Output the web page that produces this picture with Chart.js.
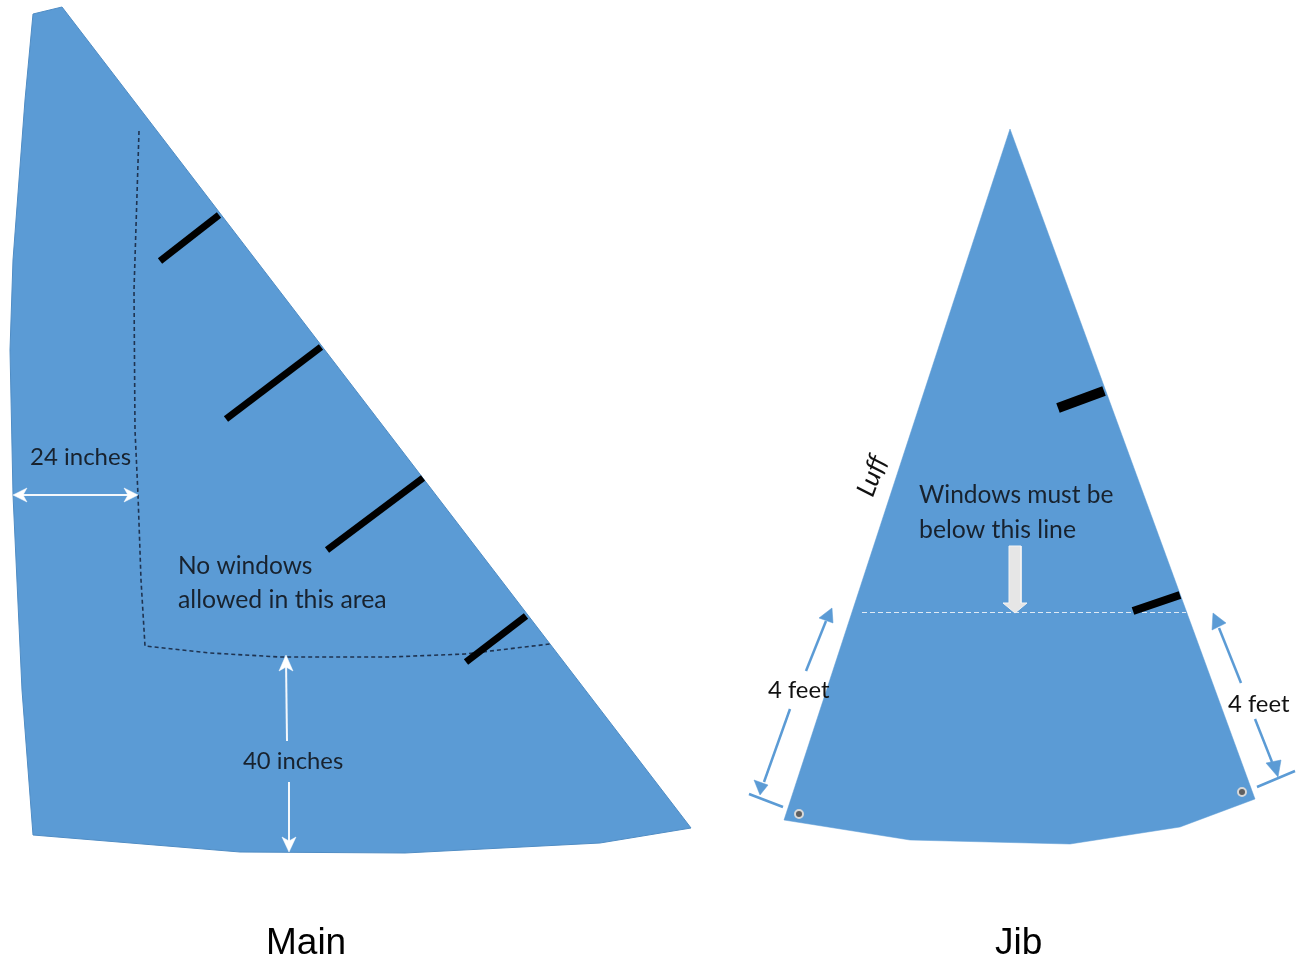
<!DOCTYPE html>
<html>
<head>
<meta charset="utf-8">
<title>Main and Jib</title>
<script src="https://cdn.jsdelivr.net/npm/chart.js@4/dist/chart.umd.js"></script>
<style>
  html, body { margin: 0; padding: 0; background: #fff; }
  #wrap { position: relative; width: 1303px; height: 963px; }
</style>
</head>
<body>
<div id="wrap"><canvas id="chart"></canvas></div>
<script>
// sail outlines
const mainSail = [[33,14],[62,7],[691,828],[600,843],[405,853],[240,852],[33,835],[22,690],[13,495],[10,350],[13,260],[25,100]];
const jibSail = [[1010,129],[1255,799],[1180,827],[1070,844],[910,840],[784,820]];

// limit lines
const mainLimit = [[139,131],[134,290],[135,430],[138,495],[141,580],[145,646],[210,653],[280,657],[390,657],[465,654],[550,644]];
const jibLimit = [[862,612.5],[1186,612.5]];

// windows
const mainWindows = [
  [[160,261],[219,215]],
  [[226,419],[321,347]],
  [[327,550],[423,478]],
  [[466,662],[526,616]]
];
const jibWindows = [
  [[1058,408],[1104,391]],
  [[1133,611],[1180,595]]
];

// white dimension arrows
const whiteLines = [
  [[15,495],[136,495]],
  [[286,660],[287,741]],
  [[289,782],[289,848]]
];
const whiteHeads = [
  [[13,495],[27,488],[23,495],[27,502]],
  [[138,495],[124,488],[128,495],[124,502]],
  [[286,655],[279,671],[286,667],[293,671]],
  [[289,852],[282,837],[289,841],[296,837]]
];

// blue dimension arrows
const blueLines = [
  [[806,671],[826,621]],
  [[790,709],[764,782]],
  [[1241,683],[1219,628]],
  [[1255,719],[1272,762]],
  [[749,794],[783,807]],
  [[1257,787],[1295,771]]
];
const blueHeads = [
  [[832,608],[819,618],[833,623]],
  [[760,795],[754,780],[768,785]],
  [[1213,613],[1212,630],[1226,623]],
  [[1278,777],[1266,763],[1281,760]]
];

const blockArrow = [[1009,546],[1021,546],[1021,603],[1027,603],[1015,613],[1003,603],[1009,603]];
const grommets = [[799,814],[1242,792]];

// text
const labels = ['24 inches', 'No windows', 'allowed in this area', '40 inches', 'Windows must be', 'below this line', '4 feet', '4 feet', 'Luff', 'Main', 'Jib'];
const labelAnchors = [[30,465],[178,574],[178,608],[243,769],[919,503],[919,538],[768,698],[1228,712],[872,476],[266,954],[995,954]];

const toPoints = pts => pts.map(p => ({ x: p[0], y: p[1] }));

function polygon(pts, fillColor, border) {
  return {
    data: toPoints(pts.concat([pts[0]])),
    showLine: true,
    fill: 'shape',
    backgroundColor: fillColor,
    borderColor: border || fillColor,
    borderWidth: border ? 1 : 0.5,
    pointRadius: 0,
    tension: 0
  };
}

function line(pts, color, width, dash) {
  return {
    data: toPoints(pts),
    showLine: true,
    fill: false,
    borderColor: color,
    borderWidth: width,
    borderDash: dash || [],
    pointRadius: 0,
    tension: 0
  };
}

const SAIL_BLUE = '#5b9bd5';
const INK = '#18222e';

const datasets = [
  polygon(mainSail, SAIL_BLUE, '#4f8cc4'),
  polygon(jibSail, SAIL_BLUE),
  line(mainLimit, '#1f3350', 1.6, [4, 3]),
  line(jibLimit, '#dfeaf5', 1.2, [5, 3])
];
mainWindows.forEach(w => datasets.push(line(w, '#000', 7)));
datasets.push(line(jibWindows[0], '#000', 10));
datasets.push(line(jibWindows[1], '#000', 8));
whiteLines.forEach(w => datasets.push(line(w, '#f4f8fc', 2)));
whiteHeads.forEach(h => datasets.push(polygon(h, '#fff')));
blueLines.forEach(b => datasets.push(line(b, SAIL_BLUE, 2.5)));
blueHeads.forEach(h => datasets.push(polygon(h, SAIL_BLUE)));
datasets.push(polygon(blockArrow, '#e6e6e6', '#f4f4f4'));
datasets.push({
  data: toPoints(grommets),
  showLine: false,
  pointRadius: 4,
  pointBackgroundColor: '#5f5f5f',
  pointBorderColor: '#d8d8d8',
  pointBorderWidth: 2
});
// chart.js paints the first dataset last, so flip to get the sails underneath
datasets.reverse();

// canvas text placed through the chart's scales
const labelStyles = [
  '24px Lato', '24.5px Lato', '24.8px Lato', '23.8px Lato', '24.5px Lato', '24.8px Lato',
  '23.8px Lato', '23.8px Lato', 'italic 26px Lato', '37px "Liberation Sans"', '37px "Liberation Sans"'
];

const textPlugin = {
  id: 'sailText',
  afterDatasetsDraw(chart) {
    const { ctx, scales } = chart;
    ctx.save();
    labels.forEach((text, i) => {
      const x = scales.x.getPixelForValue(labelAnchors[i][0]);
      const y = scales.y.getPixelForValue(labelAnchors[i][1]);
      ctx.font = labelStyles[i];
      ctx.fillStyle = i >= 9 ? '#000' : (i === 6 || i === 7 || i === 8 ? '#111' : INK);
      ctx.textBaseline = 'alphabetic';
      if (text === 'Luff') {
        ctx.save();
        ctx.translate(x, y);
        ctx.rotate(-70 * Math.PI / 180);
        ctx.textAlign = 'center';
        ctx.textBaseline = 'middle';
        ctx.fillText(text, 0, 0);
        ctx.restore();
      } else {
        ctx.textAlign = 'left';
        ctx.fillText(text, x, y);
      }
    });
    ctx.restore();
  }
};

new Chart(document.getElementById('chart'), {
  type: 'scatter',
  data: { datasets },
  plugins: [textPlugin],
  options: {
    responsive: true,
    maintainAspectRatio: false,
    animation: false,
    events: [],
    layout: { padding: 0, autoPadding: false },
    plugins: {
      legend: { display: false },
      tooltip: { enabled: false },
      title: { display: false }
    },
    scales: {
      x: { type: 'linear', min: 0, max: 1303, display: false },
      y: { type: 'linear', min: 0, max: 963, reverse: true, display: false }
    }
  }
});
</script>
</body>
</html>
